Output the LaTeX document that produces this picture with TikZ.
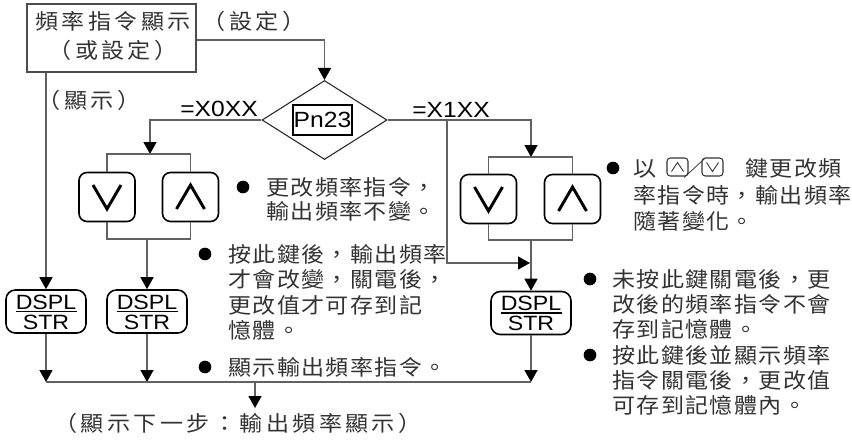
\documentclass[tikz,border=0pt]{standalone}
\usepackage{fontspec}
\setmainfont{Liberation Sans}[FakeStretch=1.12]
\newfontfamily\cjk{Noto Sans CJK TC}[FakeStretch=1.08,LetterSpace=6.5]
\newfontfamily\cjkw{Noto Sans CJK TC}[FakeStretch=1.08,LetterSpace=16]
\usetikzlibrary{arrows.meta,shapes.geometric,calc}
\tikzset{
  conn/.style={draw=black!62, line width=1.1pt},
  arr/.style={conn, -{Triangle[width=9.75pt,length=9pt,color=black]}},
  cjtext/.style={font={\cjk\fontsize{16pt}{19pt}\selectfont}, text=black!80, inner sep=0pt, text height=12.2pt, text depth=0pt},
  cjwide/.style={cjtext, font={\cjkw\fontsize{16pt}{19pt}\selectfont}},
  latin/.style={font={\fontsize{16.5pt}{19pt}\selectfont}, text=black, inner sep=0pt, text height=11.8pt, text depth=0pt},
  keytext/.style={font={\fontsize{15.5pt}{18pt}\selectfont}, text=black, inner sep=0pt, text height=11.1pt, text depth=0pt},
  bullet/.style={circle, fill=black, inner sep=0pt, minimum size=9.5pt},
  btn/.style={draw=black, line width=1.2pt, rounded corners=6pt, minimum width=42pt, minimum height=36.75pt, inner sep=0pt},
  dspl/.style={draw=black, line width=1.2pt, rounded corners=7pt, minimum width=60pt, minimum height=32.25pt, inner sep=0pt},
  chev/.style={draw=black, line width=2.2pt, line join=miter},
  smallkey/.style={draw=black!80, line width=0.8pt, rounded corners=2.5pt, minimum width=15.75pt, minimum height=13.5pt, inner sep=0pt},
  smallchev/.style={draw=black!80, line width=0.7pt},
}
\begin{document}
\begin{tikzpicture}[x=0.75pt,y=-0.75pt]
\useasboundingbox (0,0) rectangle (852,439);

% top box and labels
\node[draw=black!70, line width=0.8pt, minimum width=126.75pt, minimum height=51pt, inner sep=0pt] (top) at (111.5,38) {};
\node[cjwide] (topa) at (113,21) {頻率指令顯示};
\node[cjwide] (topb) at (113,50) {（或設定）};
\node[cjwide] (set) at (254,21) {（設定）};
\node[cjwide] (disp) at (89,100) {（顯示）};
\node[latin] (x0) at (219,109) {=X0XX};
\node[latin] (x1) at (451,110) {=X1XX};

% decision
\node[diamond, draw=black!85, line width=0.8pt, minimum width=93.75pt, minimum height=59.25pt, inner sep=0pt] (dia) at (324.5,120) {};
\node[latin, draw=black, line width=1.1pt, minimum width=44.25pt, minimum height=22.5pt] (pn) at (322.5,120) {Pn23};

% buttons
\node[btn] (b1) at (107,197) {};
\node[btn] (b2) at (190.5,197) {};
\node[btn] (b3) at (488.5,199) {};
\node[btn] (b4) at (572.5,199) {};
\draw[chev] ($(b1)+(-14,-12)$) -- ($(b1)+(0,12)$) -- ($(b1)+(14,-12)$);
\draw[chev] ($(b2)+(-14,12)$) -- ($(b2)+(0,-12)$) -- ($(b2)+(14,12)$);
\draw[chev] ($(b3)+(-14,-12)$) -- ($(b3)+(0,12)$) -- ($(b3)+(14,-12)$);
\draw[chev] ($(b4)+(-14,12)$) -- ($(b4)+(0,-12)$) -- ($(b4)+(14,12)$);

% DSPL/STR keys
\node[dspl] (d1) at (46,311.5) {};
\node[dspl] (d2) at (147,311.5) {};
\node[dspl] (d3) at (531,313) {};
\foreach \d in {d1,d2,d3}{
  \node[keytext] (\d-a) at ($(\d)+(0,-9.5)$) {DSPL};
  \draw[line width=1pt] ([yshift=-1.3pt]\d-a.south west) -- ([yshift=-1.3pt]\d-a.south east);
  \node[keytext] (\d-b) at ($(\d)+(0,10.5)$) {STR};
}

% coordinates
\coordinate (ltop) at (150,154);
\coordinate (lbot) at (147,239);
\coordinate (rtop) at (531,157);
\coordinate (rbot) at (531,240);
\coordinate (rbr) at (447,120);
\coordinate (rjoin) at (530,263);
\coordinate (bl) at (0,382);
\coordinate (bc) at (255,382);
\coordinate (bend) at (255,408);

% connectors
\draw[arr] ($(top.east)+(0,2)$) -| (dia.north);
\draw[arr] (top.south -| d1.north) -- (d1.north);
\draw[arr] (dia.west) -| (ltop);
\draw[conn] (b1.north) |- (ltop) -| (b2.north);
\draw[conn] (b1.south) |- (lbot) -| (b2.south);
\draw[arr] (lbot) -- (d2.north);
\draw[arr] (dia.east) -| (rtop);
\draw[conn] (b3.north) |- (rtop) -| (b4.north);
\draw[conn] (b3.south) |- (rbot) -| (b4.south);
\draw[arr] (rbot) -- (d3.north);
\draw[arr] (rbr) |- (rjoin);
\draw[arr] (d1.south) -- (d1.south |- bl);
\draw[arr] (d2.south) -- (d2.south |- bl);
\draw[arr] (d3.south) -- (d3.south |- bl);
\draw[conn] (d1.south |- bl) -- (d3.south |- bl);
\draw[arr] (bc) -- (bend);
\node[cjwide] (next) at (238,423) {（顯示下一步：輸出頻率顯示）};

% note A
\node[bullet] (bA) at (243,187) {};
\node[cjtext, anchor=west] (A1) at (266,187) {更改頻率指令，};
\node[cjtext, anchor=west] (A2) at (266,211) {輸出頻率不變。};
% note B
\node[bullet] (bB) at (205,254) {};
\node[cjtext, anchor=west] (B1) at (228,254) {按此鍵後，輸出頻率};
\node[cjtext, anchor=west] (B2) at (228,279) {才會改變，關電後，};
\node[cjtext, anchor=west] (B3) at (228,305) {更改值才可存到記};
\node[cjtext, anchor=west] (B4) at (228,330) {憶體。};
% note F
\node[bullet] (bF) at (205,367) {};
\node[cjtext, anchor=west] (F1) at (228,367) {顯示輸出頻率指令。};
% note C
\node[bullet] (bC) at (613,168) {};
\node[cjtext, anchor=west] (C1a) at (633,168) {以};
\node[smallkey] (k1) at (677.5,167) {};
\draw[smallchev] ($(k1)+(-6,4.5)$) -- ($(k1)+(0,-4.5)$) -- ($(k1)+(6,4.5)$);
\node[cjtext] (sl) at (695,168) {／};
\node[smallkey] (k2) at (712.5,167) {};
\draw[smallchev] ($(k2)+(-6,-4.5)$) -- ($(k2)+(0,4.5)$) -- ($(k2)+(6,-4.5)$);
\node[cjtext, anchor=west] (C1b) at (745,168) {鍵更改頻};
\node[cjtext, anchor=west] (C2) at (633,195) {率指令時，輸出頻率};
\node[cjtext, anchor=west] (C3) at (633,221) {隨著變化。};
% note D
\node[bullet] (bD) at (590,279) {};
\node[cjtext, anchor=west] (D1) at (612,279) {未按此鍵關電後，更};
\node[cjtext, anchor=west] (D2) at (612,304) {改後的頻率指令不會};
\node[cjtext, anchor=west] (D3) at (612,329) {存到記憶體。};
% note E
\node[bullet] (bE) at (590,355) {};
\node[cjtext, anchor=west] (E1) at (612,355) {按此鍵後並顯示頻率};
\node[cjtext, anchor=west] (E2) at (612,380) {指令關電後，更改值};
\node[cjtext, anchor=west] (E3) at (612,405) {可存到記憶體內。};
\end{tikzpicture}
\end{document}
